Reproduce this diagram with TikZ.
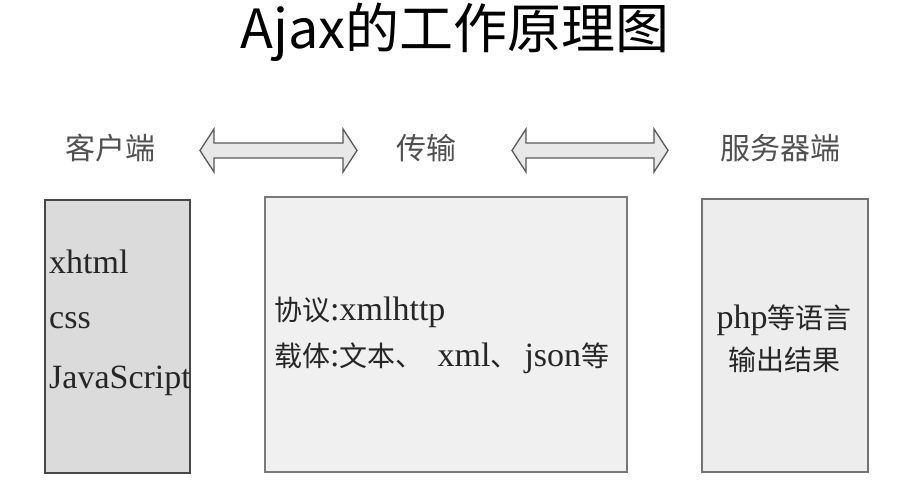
\documentclass[tikz,border=0pt]{standalone}
\usepackage{fontspec}
\setmainfont{Liberation Serif}
\newfontfamily\cjk{Noto Sans CJK SC}
\definecolor{labelgray}{HTML}{505050}
\definecolor{textgray}{HTML}{262626}
\newcommand{\zh}[1]{{\cjk\fontsize{28}{30}\selectfont #1}}
\begin{document}
\begin{tikzpicture}[x=1pt, y=-1pt, line join=miter,
  box/.style={draw=#1, line width=1.8pt},
  head label/.style={font=\cjk\fontsize{30}{36}\selectfont, text=labelgray, inner sep=0pt},
  box text/.style={font=\fontsize{34}{40}\selectfont, text=textgray, inner sep=0pt, anchor=west},
  wide arrow/.style={draw=black!65, fill=black!9, line width=1.3pt}]
\useasboundingbox (0,0) rectangle (902,502);
\fill[white] (0,0) rectangle (902,502);
% title
\node[font=\cjk\fontsize{54}{60}\selectfont, inner sep=0pt] (title) at (455,32) {Ajax的工作原理图};
% column labels
\node[head label] (client) at (110,148) {客户端};
\node[head label] (trans) at (426,148) {传输};
\node[head label] (server) at (780,148) {服务器端};
% double arrows
\foreach \xa/\xb in {200/357, 512/668}
  \draw[wide arrow] (\xa,150.5) -- (\xa+14,129) -- (\xa+14,143) -- (\xb-14,143) -- (\xb-14,129)
    -- (\xb,150.5) -- (\xb-14,172) -- (\xb-14,158) -- (\xa+14,158) -- (\xa+14,172) -- cycle;
% boxes
\draw[box=black!72, fill=black!14] (45,200) rectangle (190,473);
\draw[box=black!52, fill=black!6] (265,197) rectangle (627,472);
\draw[box=black!55, fill=black!7] (702,199) rectangle (868,472);
% client box
\node[box text] (xhtml) at (49,262) {xhtml};
\node[box text] (css) at (49,321) {css};
\node[box text] (js) at (49,381) {JavaScript};
% transfer box
\node[box text, font=\fontsize{34}{46}\selectfont, align=left] (proto) at (274,335)
  {\zh{协议}:xmlhttp\\\zh{载体}:\zh{文本、}\hspace{14pt}xml\zh{、}\hspace{6pt}json\zh{等}};
% server box
\node[box text, anchor=center, font=\fontsize{34}{42}\selectfont, align=center] (output) at (784,339)
  {php\zh{等语言}\\\zh{输出结果}};
\end{tikzpicture}
\end{document}
